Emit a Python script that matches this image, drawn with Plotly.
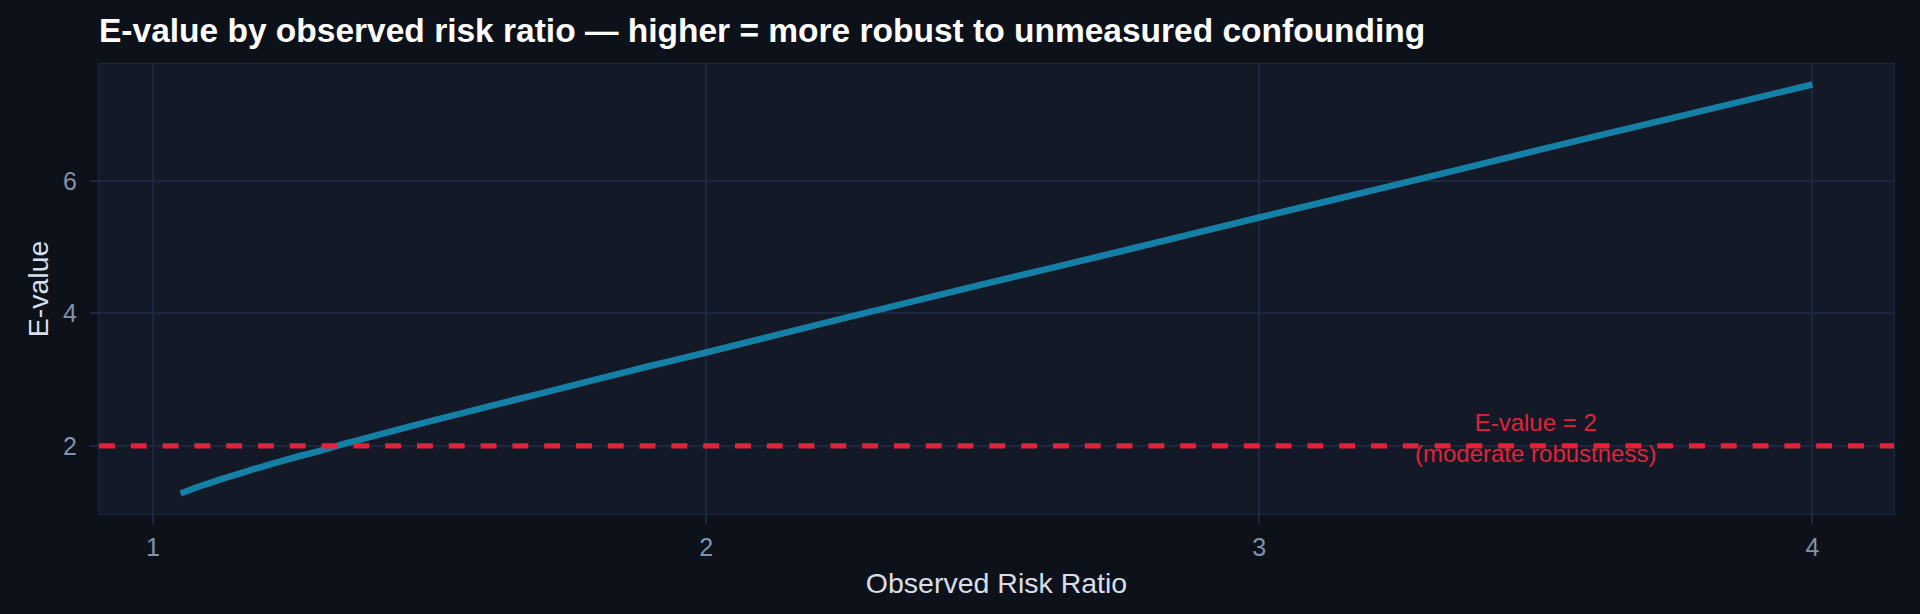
import plotly.graph_objects as go

# observed risk ratio vs E-value
rr = [1.05, 1.075, 1.10, 1.125, 1.15, 1.175, 1.20, 1.25, 1.30, 1.35, 1.40, 1.50, 1.60, 1.70,
      1.80, 1.90, 2.00, 2.25, 2.50, 2.75, 3.00, 3.25, 3.50, 3.75, 4.00]
evalue = [1.28, 1.36, 1.43, 1.50, 1.565, 1.63, 1.69, 1.81, 1.92, 2.04, 2.15, 2.37, 2.58, 2.79,
          3.00, 3.21, 3.41, 3.93, 4.44, 4.94, 5.45, 5.95, 6.46, 6.96, 7.46]

threshold = 2
threshold_label = "E-value = 2<br>(moderate robustness)"
label_x = 3.5

x_ticks = [1, 2, 3, 4]
y_ticks = [2, 4, 6]

FONT = "Liberation Sans, Arial, Helvetica, sans-serif"
GRID = "#1b2840"
BG = "#0d1119"

fig = go.Figure()
fig.add_trace(go.Scatter(x=rr, y=evalue, mode="lines",
                         line=dict(color="#1580a6", width=6.5, shape="spline", smoothing=1),
                         showlegend=False, hoverinfo="x+y"))

fig.add_shape(type="line", xref="paper", x0=0, x1=1, yref="y", y0=threshold, y1=threshold,
              line=dict(color="#e0223a", width=5.3, dash="dash"), layer="above")
fig.add_annotation(x=label_x, y=threshold, text=threshold_label, showarrow=False,
                   font=dict(color="#e0223a", size=24, family=FONT),
                   xanchor="center", yanchor="middle", yshift=8)

fig.update_layout(
    width=1920, height=614,
    paper_bgcolor=BG, plot_bgcolor="#131926",
    margin=dict(l=99, r=26, t=64, b=100),
    font=dict(family=FONT, color="#8392ab"),
    title=dict(text="<b>E-value by observed risk ratio — higher = more robust to unmeasured confounding</b>",
               x=99 / 1920, xanchor="left", xref="container",
               y=1 - 30 / 614, yanchor="middle", yref="container",
               font=dict(size=33.5, color="#ffffff", family=FONT)),
)
fig.update_xaxes(range=[0.9025, 4.1475], tickvals=x_ticks, showgrid=True, gridcolor=GRID, gridwidth=2,
                 zeroline=False, showline=True, linecolor=GRID, mirror=True,
                 ticks="outside", ticklen=9, tickwidth=2, tickcolor=GRID, ticklabelstandoff=2,
                 tickfont=dict(size=25, color="#8392ab"),
                 title=dict(text="Observed Risk Ratio", font=dict(size=28.5, color="#d9dee8"), standoff=13))
fig.update_yaxes(range=[0.97, 7.77], tickvals=y_ticks, showgrid=True, gridcolor=GRID, gridwidth=2,
                 zeroline=False, showline=True, linecolor=GRID, mirror=True,
                 ticks="outside", ticklen=8, tickwidth=2, tickcolor=GRID, ticklabelstandoff=8,
                 tickfont=dict(size=25, color="#8392ab"),
                 title=dict(text="E-value", font=dict(size=28.5, color="#d9dee8"), standoff=6))

# no white page border round the figure
page_js = ("document.body.style.margin='0';document.body.style.background='%s';"
           "document.documentElement.style.background='%s';" % (BG, BG))
fig.write_html("out.html", post_script=page_js, config={"displayModeBar": False})
